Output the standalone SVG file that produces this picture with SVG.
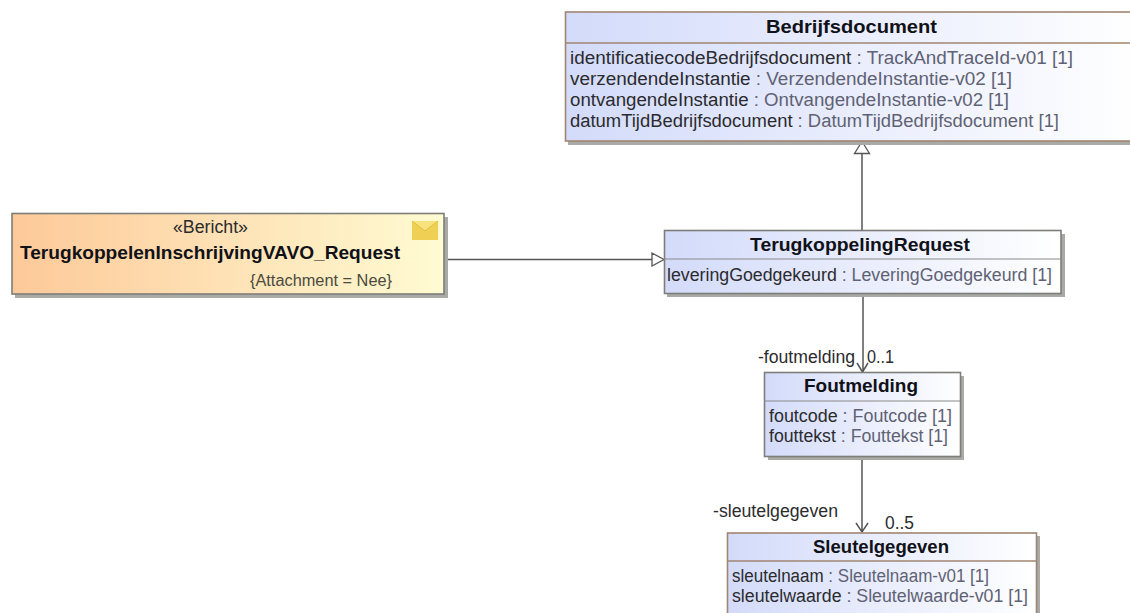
<svg xmlns="http://www.w3.org/2000/svg" width="1130" height="613" viewBox="0 0 1130 613">
<style>
.box{stroke:#a08672;stroke-width:1.6}
.gbox{stroke:#7d7d7a;stroke-width:1.6}
.sh{fill:#a9a9a6}
.sep{stroke:#a08672;stroke-width:1.4}
.gsep{stroke:#8a8a88;stroke-width:1.2}
text{font-family:"Liberation Sans",Arial,sans-serif;font-size:18px;fill:#2b2b2e}
.t{font-weight:bold;font-size:19px;fill:#111118}
.ty{fill:#5f6274}
.c{fill:none;stroke:#555;stroke-width:1.5}
</style>
<defs>
<linearGradient id="b" x1="0" y1="0" x2="1" y2="0"><stop offset="0" stop-color="#d3dbfa"/><stop offset="1" stop-color="#ffffff"/></linearGradient>
<linearGradient id="o" x1="0" y1="0" x2="1" y2="0"><stop offset="0" stop-color="#fdc999"/><stop offset="1" stop-color="#fffbd2"/></linearGradient>
</defs>
<rect width="1130" height="613" fill="#fff"/>
<g id="connectors">
<path class="c" d="M862 230V153"/>
<path d="M862 141.500L869.500 153.500H854.500Z" fill="#fff" stroke="#555" stroke-width="1.300"/>
<path class="c" d="M444 259.500H652"/>
<path d="M664 259.500L652 253V266Z" fill="#fff" stroke="#555" stroke-width="1.300"/>
<path class="c" d="M863 294V372M857 363L862.500 372L868 363"/>
<path class="c" d="M862 457V532M856 523L862 532L868 523"/>
<text x="758" y="363" textLength="97" lengthAdjust="spacingAndGlyphs">-foutmelding</text>
<text x="867" y="363" textLength="27" lengthAdjust="spacingAndGlyphs">0..1</text>
<text x="713" y="517" textLength="125" lengthAdjust="spacingAndGlyphs">-sleutelgegeven</text>
<text x="885" y="529" textLength="29" lengthAdjust="spacingAndGlyphs">0..5</text>
</g>
<g id="bedrijfsdocument">
<rect class="sh" x="568" y="16" width="575" height="129"/>
<rect class="box" x="565.500" y="12" width="575" height="129" fill="url(#b)"/>
<path class="sep" d="M565 43H1130"/>
<text class="t" x="766" y="33" textLength="171" lengthAdjust="spacingAndGlyphs">Bedrijfsdocument</text>
<text x="570" y="64" textLength="503" lengthAdjust="spacingAndGlyphs">identificatiecodeBedrijfsdocument <tspan class="ty">: TrackAndTraceId-v01 [1]</tspan></text>
<text x="570" y="85" textLength="442" lengthAdjust="spacingAndGlyphs">verzendendeInstantie <tspan class="ty">: VerzendendeInstantie-v02 [1]</tspan></text>
<text x="570" y="106" textLength="439" lengthAdjust="spacingAndGlyphs">ontvangendeInstantie <tspan class="ty">: OntvangendeInstantie-v02 [1]</tspan></text>
<text x="570" y="127" textLength="489" lengthAdjust="spacingAndGlyphs">datumTijdBedrijfsdocument <tspan class="ty">: DatumTijdBedrijfsdocument [1]</tspan></text>
</g>
<g id="bericht">
<rect class="sh" x="15" y="217" width="433" height="81"/>
<rect class="gbox" x="12" y="213.500" width="432" height="80.500" fill="url(#o)"/>
<text x="173" y="233" textLength="75" lengthAdjust="spacingAndGlyphs">«Bericht»</text>
<text class="t" x="20" y="259" textLength="380" lengthAdjust="spacingAndGlyphs">TerugkoppelenInschrijvingVAVO_Request</text>
<text x="250" y="286" textLength="142" lengthAdjust="spacingAndGlyphs" style="font-size:16px;fill:#4a4a40">{Attachment = Nee}</text>
<path d="M412 221H438V240H412Z" fill="#efd055"/>
<path d="M412 221L425 231L438 221" fill="#f7e27e" stroke="#e0bd3c" stroke-width="1"/>
</g>
<g id="terugkoppelingrequest">
<rect class="sh" x="667" y="234" width="398" height="63"/>
<rect class="gbox" x="664.500" y="230.500" width="396.500" height="63" fill="url(#b)"/>
<path class="gsep" d="M664 259H1061"/>
<text class="t" x="750" y="251" textLength="220" lengthAdjust="spacingAndGlyphs">TerugkoppelingRequest</text>
<text x="667" y="281" textLength="385" lengthAdjust="spacingAndGlyphs">leveringGoedgekeurd <tspan class="ty">: LeveringGoedgekeurd [1]</tspan></text>
</g>
<g id="foutmelding">
<rect class="sh" x="768" y="376" width="196" height="84"/>
<rect class="gbox" x="764.500" y="372.500" width="196" height="84" fill="url(#b)"/>
<path class="gsep" d="M764 401H960"/>
<text class="t" x="804" y="392" textLength="114" lengthAdjust="spacingAndGlyphs">Foutmelding</text>
<text x="769" y="422" textLength="183" lengthAdjust="spacingAndGlyphs">foutcode <tspan class="ty">: Foutcode [1]</tspan></text>
<text x="769" y="442" textLength="179" lengthAdjust="spacingAndGlyphs">fouttekst <tspan class="ty">: Fouttekst [1]</tspan></text>
</g>
<g id="sleutelgegeven">
<rect class="sh" x="730" y="536" width="310" height="84"/>
<rect class="box" x="727.500" y="533" width="309" height="84" fill="url(#b)"/>
<path class="sep" d="M727 561H1036"/>
<text class="t" x="813" y="553" textLength="136" lengthAdjust="spacingAndGlyphs">Sleutelgegeven</text>
<text x="732" y="582" textLength="257" lengthAdjust="spacingAndGlyphs">sleutelnaam <tspan class="ty">: Sleutelnaam-v01 [1]</tspan></text>
<text x="732" y="602" textLength="296" lengthAdjust="spacingAndGlyphs">sleutelwaarde <tspan class="ty">: Sleutelwaarde-v01 [1]</tspan></text>
</g>
</svg>
